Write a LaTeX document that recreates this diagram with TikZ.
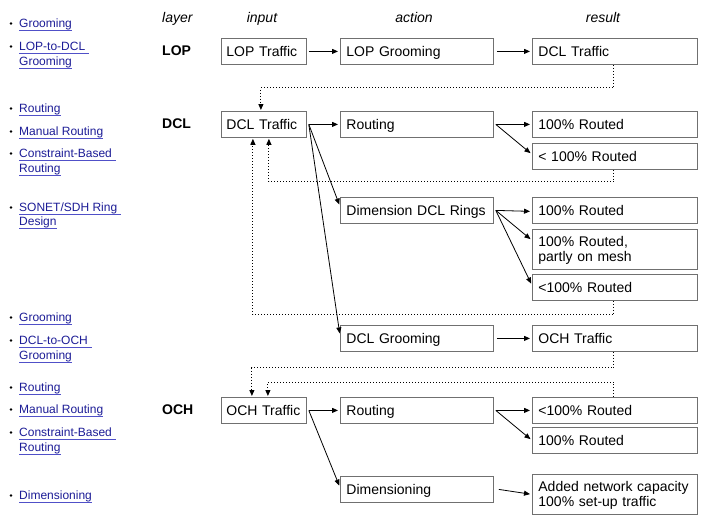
\documentclass[tikz,border=0pt]{standalone}
\usepackage{fontspec}
\setmainfont{Liberation Sans}
\usetikzlibrary{arrows.meta}
\definecolor{boxgray}{RGB}{112,112,112}
\definecolor{linkblue}{RGB}{28,28,150}
\definecolor{ulblue}{RGB}{80,80,200}
\newcommand\lnk[4]{%
  \node[lnk] (#1) at (19,#2) {#3};
  \draw[lnkul] ([yshift=-3pt]#1.base west) -- ([yshift=-3pt,xshift=#4]#1.base east);
}
\newcommand\bul[1]{\fill (11,#1-3.5) circle (1.3);}
\newcommand\boxfont{\fontsize{14}{15}\selectfont\hyphenpenalty=10000\relax}
\begin{document}
\begin{tikzpicture}[x=1pt,y=-1pt,
  hdr/.style={font=\fontsize{14}{16}\selectfont\itshape, inner sep=0},
  lay/.style={font=\fontsize{14}{16}\selectfont\bfseries, inner sep=0, anchor=west},
  box/.style={draw=boxgray, fill=white, line width=0.8pt, anchor=north west,
    font=\boxfont, align=left, inner xsep=6pt, inner ysep=0pt,
    minimum height=26pt,
    execute at begin node={\rule{0pt}{13pt}},
    execute at end node={\rule[-3pt]{0pt}{3pt}}},
  inbox/.style={box, inner xsep=5pt, text width=75pt},
  actbox/.style={box, text width=141pt},
  resbox/.style={box, text width=153pt},
  arr/.style={-{Triangle[length=6pt,width=5pt]}, line width=0.8pt},
  dotarr/.style={-{Triangle[length=6pt,width=5pt]}, line width=1pt, dotted},
  lnk/.style={font=\fontsize{12}{14}\selectfont, text=linkblue, anchor=base west, inner sep=0},
  lnkul/.style={draw=ulblue, line width=0.9pt},
]
\useasboundingbox (0,0) rectangle (702,520);

% headers
\node[hdr, anchor=base west] (hlayer) at (162,22) {layer};
\node[hdr, anchor=base] (hinput) at (262,22) {input};
\node[hdr, anchor=base] (haction) at (414,22) {action};
\node[hdr, anchor=base] (hresult) at (603,22) {result};

% layer labels
\node[lay] (llop) at (162,51) {LOP};
\node[lay] (ldcl) at (162,124) {DCL};
\node[lay] (loch) at (162,410) {OCH};

% LOP row
\node[inbox] (lopt) at (221,38) {LOP Traffic};
\node[actbox] (lopg) at (340,38) {LOP Grooming};
\node[resbox] (dclr) at (532,38) {DCL Traffic};

% DCL rows
\node[inbox] (dclt) at (221,111) {DCL Traffic};
\node[actbox] (drout) at (340,111) {Routing};
\node[resbox] (dr1) at (532,111) {100\% Routed};
\node[resbox] (dr2) at (532,143) {< 100\% Routed};
\node[actbox] (ddim) at (340,197) {Dimension DCL Rings};
\node[resbox] (dd1) at (532,197) {100\% Routed};
\node[resbox, minimum height=40pt] (dd2) at (532,229) {100\% Routed,\\partly on mesh};
\node[resbox] (dd3) at (532,274) {<100\% Routed};
\node[actbox] (dgr) at (340,325) {DCL Grooming};
\node[resbox] (ochr) at (532,325) {OCH Traffic};

% OCH rows
\node[inbox] (ocht) at (221,397) {OCH Traffic};
\node[actbox] (orout) at (340,397) {Routing};
\node[resbox] (or1) at (532,397) {<100\% Routed};
\node[resbox] (or2) at (532,427) {100\% Routed};
\node[actbox] (odim) at (340,476) {Dimensioning};
\node[resbox, minimum height=40pt] (odim1) at (532,474) {Added network capacity\\100\% set-up traffic};

% fan-out points
\coordinate (lopts) at ([xshift=2pt]lopt.east);
\coordinate (lopgs) at ([xshift=3pt]lopg.east);
\coordinate (dclts) at ([xshift=2pt]dclt.east);
\coordinate (drouts) at ([xshift=2pt]drout.east);
\coordinate (ddims) at ([xshift=2pt]ddim.east);
\coordinate (dgrs) at ([xshift=3pt]dgr.east);
\coordinate (ochts) at ([xshift=2pt]ocht.east);
\coordinate (orouts) at ([xshift=2pt]orout.east);
\coordinate (odims) at ([xshift=5pt]odim.east);

% solid arrows
\draw[arr, shorten >=2pt] (lopts) -- (lopg.west);
\draw[arr, shorten >=2pt] (lopgs) -- (dclr.west);
\draw[arr, shorten >=2pt] (dclts) -- (drout.west);
\draw[arr, shorten >=2pt] (dclts) -- ([yshift=4pt]ddim.west);
\draw[arr, shorten >=2pt] (dclts) -- ([yshift=3pt]dgr.west);
\draw[arr, shorten >=2pt] (drouts) -- (dr1.west);
\draw[arr, shorten >=2pt] (drouts) -- ([yshift=2pt]dr2.west);
\draw[arr, shorten >=2pt] (ddims) -- ([yshift=-1pt]dd1.west);
\draw[arr, shorten >=2pt] (ddims) -- ([yshift=9pt]dd2.west);
\draw[arr, shorten >=2pt] (ddims) -- ([yshift=2pt]dd3.west);
\draw[arr, shorten >=2pt] (dgrs) -- (ochr.west);
\draw[arr, shorten >=2pt] (ochts) -- (orout.west);
\draw[arr, shorten >=2pt] (ochts) -- ([yshift=2pt]odim.west);
\draw[arr, shorten >=2pt] (orouts) -- (or1.west);
\draw[arr, shorten >=2pt] (orouts) -- (or2.west);
\draw[arr, shorten >=2pt] (odims) -- (odim1.west);

% dotted feedback arrows
\draw[dotarr, shorten >=1pt] ([xshift=-1pt]dclr.south) -- ++(0,23) -| ([xshift=-3pt]dclt.north);
\draw[dotarr, shorten >=1pt] ([xshift=-1pt]dr2.south) -- ++(0,12) -| ([xshift=5pt]dclt.south);
\draw[dotarr, shorten >=1pt] ([xshift=-1pt]dd3.south) -- ++(0,14) -| ([xshift=-11pt]dclt.south);
\draw[dotarr, shorten >=1pt] ([xshift=-1pt]ochr.south) -- ++(0,16) -| ([xshift=-12pt]ocht.north);
\draw[dotarr, shorten >=1pt] ([xshift=-1pt]or1.north) -- ++(0,-15) -| ([xshift=4pt]ocht.north);

% left links
\bul{27}  \lnk{k1}{27}{Grooming}{0pt}
\bul{50}  \lnk{k2}{50}{LOP-to-DCL}{4pt}
          \lnk{k2b}{65}{Grooming}{0pt}
\bul{112} \lnk{k3}{112}{Routing}{0pt}
\bul{135} \lnk{k4}{135}{Manual Routing}{0pt}
\bul{157} \lnk{k5}{157}{Constraint-Based}{4pt}
          \lnk{k5b}{172}{Routing}{0pt}
\bul{211} \lnk{k6}{211}{SONET/SDH Ring}{4pt}
          \lnk{k6b}{225}{Design}{0pt}
\bul{321} \lnk{k7}{321}{Grooming}{0pt}
\bul{344} \lnk{k8}{344}{DCL-to-OCH}{4pt}
          \lnk{k8b}{359}{Grooming}{0pt}
\bul{391} \lnk{k9}{391}{Routing}{0pt}
\bul{413} \lnk{k10}{413}{Manual Routing}{0pt}
\bul{436} \lnk{k11}{436}{Constraint-Based}{4pt}
          \lnk{k11b}{451}{Routing}{0pt}
\bul{499} \lnk{k12}{499}{Dimensioning}{0pt}
\end{tikzpicture}
\end{document}
